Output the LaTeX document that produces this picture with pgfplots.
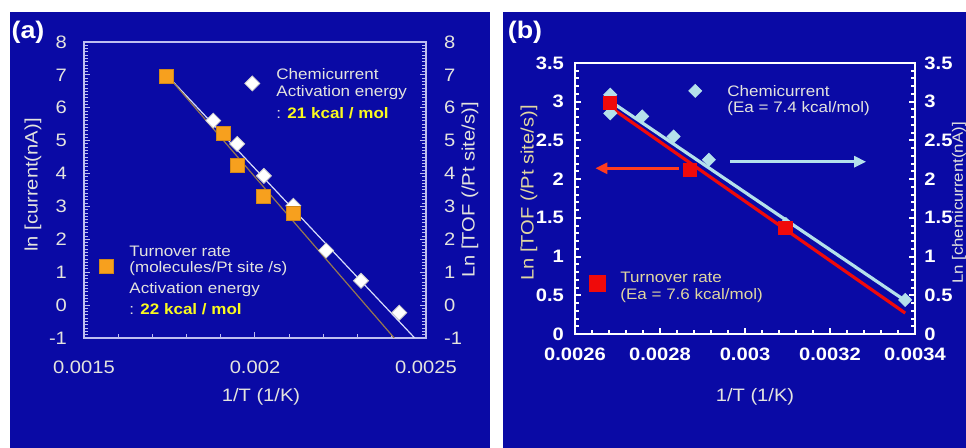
\documentclass[border=0pt]{standalone}
\usepackage{fontspec}
\setmainfont{Liberation Sans}[FakeStretch=1.12]
\usepackage{pgfplots}
\pgfplotsset{compat=1.18}
\usetikzlibrary{arrows.meta}
\definecolor{bg}{RGB}{10,10,165}
\definecolor{frameA}{RGB}{190,190,240}
\definecolor{txtA}{RGB}{228,228,222}
\definecolor{orangeA}{RGB}{247,160,30}
\definecolor{lineW}{RGB}{215,220,250}
\definecolor{lineB}{RGB}{150,120,80}
\definecolor{ylw}{RGB}{250,250,30}
\definecolor{ltblue}{RGB}{180,225,235}
\definecolor{redB}{RGB}{240,10,10}
\definecolor{arrowR}{RGB}{255,60,30}
\definecolor{tanT}{RGB}{225,215,160}
\newcommand\fA{\fontsize{9}{10}\selectfont}
\newcommand\fL{\fontsize{7.6}{9}\selectfont}
\begin{document}
\begin{tikzpicture}
\path[use as bounding box, clip] (0,0) rectangle (483pt,224pt);
\fill[white] (0,0) rectangle (483pt,224pt);
\fill[bg] (5pt,0) rectangle (245pt,218pt);
\fill[bg] (251.5pt,0) rectangle (483pt,218pt);

% ---------------- panel (a)
\begin{axis}[at={(42pt,55pt)}, anchor=south west, scale only axis,
  width=171pt, height=148pt,
  xmin=0.0015, xmax=0.0025, ymin=-1, ymax=8,
  scaled x ticks=false, scaled y ticks=false,
  axis line style={frameA, line width=0.8pt},
  xtick={0.0015,0.002,0.0025}, xticklabels={0.0015,0.002,0.0025},
  minor x tick num=4,
  ytick={-1,0,1,2,3,4,5,6,7,8}, yticklabels={-1,0,1,2,3,4,5,6,7,8},
  minor y tick num=9,
  xtick pos=lower, ytick pos=both, yticklabel pos=left,
  tick align=inside, major tick length=3pt, minor tick length=1.8pt,
  tick style={frameA, line width=0.5pt},
  ticklabel style={font=\fA, text=txtA},
  yticklabel style={xshift=-5pt}, xticklabel style={yshift=-8pt},
]
\addplot[lineW, line width=0.6pt] coordinates {(0.001746,6.95) (0.002467,-1)};
\addplot[lineB, line width=0.6pt] coordinates {(0.001746,6.95) (0.002407,-1)};
\addplot[only marks, mark=square*, mark size=2.65pt, mark options={rotate=45, fill=white, draw=gray!40}]
  coordinates {(0.001878,5.61) (0.001948,4.90) (0.002026,3.93) (0.002112,3.02) (0.002208,1.66) (0.00231,0.74) (0.002422,-0.23) (0.001992,6.74)};
\addplot[only marks, mark=square*, mark size=3.5pt, mark options={fill=orangeA, draw=orangeA!85!black}]
  coordinates {(0.001742,6.95) (0.001909,5.22) (0.001948,4.24) (0.002026,3.32) (0.002112,2.79) (0.001566,1.17)};
\end{axis}
\begin{axis}[at={(42pt,55pt)}, anchor=south west, scale only axis,
  width=171pt, height=148pt,
  xmin=0.0015, xmax=0.0025, ymin=-1, ymax=8,
  scaled x ticks=false, scaled y ticks=false,
  axis x line=none, axis y line*=right, axis line style={draw=none},
  ytick={-1,0,1,2,3,4,5,6,7,8}, yticklabels={-1,0,1,2,3,4,5,6,7,8},
  major tick length=0pt, tick style={draw=none},
  yticklabel style={font=\fA, text=txtA, xshift=5.5pt},
]
\end{axis}

% ---------------- panel (b)
\begin{axis}[at={(287.5pt,57pt)}, anchor=south west, scale only axis,
  width=170pt, height=135.5pt,
  xmin=0.0026, xmax=0.0034, ymin=0, ymax=3.5,
  scaled x ticks=false, scaled y ticks=false,
  axis line style={white, line width=1.4pt},
  xtick={0.0026,0.0028,0.003,0.0032,0.0034},
  xticklabels={0.0026,0.0028,0.003,0.0032,0.0034},
  minor x tick num=4,
  ytick={0,0.5,1,1.5,2,2.5,3,3.5}, yticklabels={0,0.5,1,1.5,2,2.5,3,3.5},
  minor y tick num=4,
  xtick pos=lower, ytick pos=both, yticklabel pos=left,
  tick align=inside, major tick length=3pt, minor tick length=2pt,
  tick style={white, line width=1pt},
  ticklabel style={font=\fA\bfseries, text=white},
  yticklabel style={xshift=-2pt}, xticklabel style={yshift=-3.3pt},
]
\addplot[only marks, mark=square*, mark size=2.3pt, mark options={rotate=45, fill=ltblue, draw=ltblue}]
  coordinates {(0.002683,3.09) (0.002683,2.85) (0.002758,2.81) (0.002832,2.55) (0.002915,2.25) (0.003096,1.42) (0.003377,0.44) (0.002883,3.14)};
\addplot[only marks, mark=square*, mark size=3.3pt, mark options={fill=redB, draw=redB}]
  coordinates {(0.002683,2.98) (0.002871,2.12) (0.003095,1.37)};
\addplot[only marks, mark=square*, mark size=4pt, mark options={fill=redB, draw=redB}]
  coordinates {(0.002652,0.655)};
\addplot[redB, line width=1.6pt] coordinates {(0.002675,2.96) (0.003377,0.27)};
\addplot[ltblue, line width=1.6pt] coordinates {(0.002682,3.01) (0.00338,0.42)};
\addplot[arrowR, line width=1.4pt, -{Triangle[length=6pt,width=5.5pt]}] coordinates {(0.002844,2.14) (0.002648,2.14)};
\addplot[ltblue, line width=1.4pt, -{Triangle[length=6pt,width=5.5pt]}] coordinates {(0.002965,2.225) (0.003285,2.225)};
\end{axis}
\begin{axis}[at={(287.5pt,57pt)}, anchor=south west, scale only axis,
  width=170pt, height=135.5pt,
  xmin=0.0026, xmax=0.0034, ymin=0, ymax=3.5,
  scaled x ticks=false, scaled y ticks=false,
  axis x line=none, axis y line*=right, axis line style={draw=none},
  ytick={0,0.5,1,1.5,2,2.5,3,3.5}, yticklabels={0,0.5,1,1.5,2,2.5,3,3.5},
  major tick length=0pt, tick style={draw=none},
  yticklabel style={font=\fA\bfseries, text=white, xshift=1.2pt},
]
\end{axis}

% ---------------- text (pixel coordinates)
\begin{scope}[x=0.5pt, y=-0.5pt, shift={(0,224pt)}]
\node[text=white, font=\fontsize{12}{13}\selectfont\bfseries] at (28,32) {(a)};
\node[text=white, font=\fontsize{12}{13}\selectfont\bfseries] at (525,32) {(b)};
% panel a labels
\node[text=txtA, font=\fA, rotate=90] at (33,185) {ln [current(nA)]};
\node[text=txtA, font=\fA, rotate=90] at (470,190) {Ln [TOF (/Pt site/s)]};
\node[text=txtA, font=\fA] at (261,397) {1/T (1/K)};
\node[text=txtA, font=\fL, anchor=west, inner sep=0pt] at (276,74) {Chemicurrent};
\node[text=txtA, font=\fL, anchor=west, inner sep=0pt] at (276,93) {Activation energy};
\node[text=txtA, font=\fL, anchor=west, inner sep=0pt] at (276,113) {: \textcolor{ylw}{\bfseries 21 kcal / mol}};
\node[text=txtA, font=\fL, anchor=west, inner sep=0pt] at (129,251) {Turnover rate};
\node[text=txtA, font=\fL, anchor=west, inner sep=0pt] at (129,269) {(molecules/Pt site /s)};
\node[text=txtA, font=\fL, anchor=west, inner sep=0pt] at (129,290) {Activation energy};
\node[text=txtA, font=\fL, anchor=west, inner sep=0pt] at (129,309) {: \textcolor{ylw}{\bfseries 22 kcal / mol}};
% panel b labels
\node[text=tanT, font=\fA, rotate=90] at (529,193) {Ln [TOF (/Pt site/s)]};
\node[text=txtA, font=\fontsize{7.5}{9}\selectfont, rotate=90, inner sep=0pt] at (959,203) {Ln [chemicurrent(nA)]};
\node[text=txtA, font=\fA] at (755,397) {1/T (1/K)};
\node[text=txtA, font=\fL, anchor=west, inner sep=0pt] at (727,91) {Chemicurrent};
\node[text=txtA, font=\fL, anchor=west, inner sep=0pt] at (727,109) {(Ea = 7.4 kcal/mol)};
\node[text=tanT, font=\fL, anchor=west, inner sep=0pt] at (620,277) {Turnover rate};
\node[text=tanT, font=\fL, anchor=west, inner sep=0pt] at (620,296) {(Ea = 7.6 kcal/mol)};
\end{scope}
\end{tikzpicture}
\end{document}
